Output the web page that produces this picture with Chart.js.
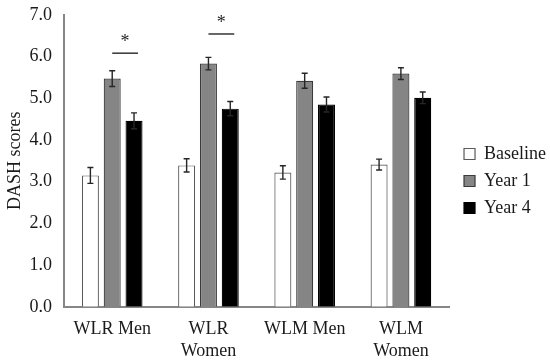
<!DOCTYPE html>
<html>
<head>
<meta charset="utf-8">
<script src="https://cdn.jsdelivr.net/npm/chart.js@4.4.0/dist/chart.umd.min.js"></script>
<style>
  html, body { margin: 0; padding: 0; background: #fff; }
  #wrap { width: 550px; height: 361px; position: relative; }
</style>
</head>
<body>
<div id="wrap"><canvas id="chart"></canvas></div>
<script>
// Data
const categories = ['WLR Men', ['WLR', 'Women'], 'WLM Men', ['WLM', 'Women']];
const seriesNames = ['Baseline', 'Year 1', 'Year 4'];
const baseline = [3.15, 3.39, 3.22, 3.41];
const year1 = [5.47, 5.83, 5.42, 5.59];
const year4 = [4.46, 4.75, 4.85, 5.01];
const baselineErr = [0.19, 0.16, 0.16, 0.13];
const year1Err = [0.19, 0.15, 0.18, 0.14];
const year4Err = [0.19, 0.17, 0.18, 0.14];
// significance markers between Year 1 and Year 4
const sigCategory = [0, 1];
const sigLevel = [6.08, 6.54];
const yTicks = [0, 1, 2, 3, 4, 5, 6, 7];

const FONT = "'Liberation Serif', 'Times New Roman', serif";

// Draws the +/- error whiskers on top of each bar
const errorBars = {
  id: 'errorBars',
  afterDatasetsDraw(chart) {
    const ctx = chart.ctx;
    const y = chart.scales.y;
    ctx.save();
    ctx.strokeStyle = '#262626';
    ctx.lineWidth = 1.4;
    chart.data.datasets.forEach((ds, i) => {
      const meta = chart.getDatasetMeta(i);
      meta.data.forEach((bar, j) => {
        const v = ds.data[j], e = ds.errors[j];
        const top = y.getPixelForValue(v + e);
        const bot = y.getPixelForValue(v - e);
        ctx.beginPath();
        ctx.moveTo(bar.x, top); ctx.lineTo(bar.x, bot);
        ctx.moveTo(bar.x - 3, top); ctx.lineTo(bar.x + 3, top);
        ctx.moveTo(bar.x - 3, bot); ctx.lineTo(bar.x + 3, bot);
        ctx.stroke();
      });
    });
    ctx.restore();
  }
};

// Draws the "*" brackets
const sigMarks = {
  id: 'sigMarks',
  afterDatasetsDraw(chart) {
    const ctx = chart.ctx;
    const y = chart.scales.y;
    const m1 = chart.getDatasetMeta(1), m2 = chart.getDatasetMeta(2);
    ctx.save();
    ctx.strokeStyle = '#262626';
    ctx.fillStyle = '#262626';
    ctx.lineWidth = 1.4;
    sigCategory.forEach((c, k) => {
      const x1 = m1.data[c].x;
      const x2 = m2.data[c].x + 4;
      const py = y.getPixelForValue(sigLevel[k]);
      ctx.beginPath();
      ctx.moveTo(x1, py); ctx.lineTo(x2, py);
      ctx.stroke();
      ctx.font = '18px ' + FONT;
      ctx.textAlign = 'center';
      ctx.textBaseline = 'middle';
      ctx.fillText('*', (x1 + x2) / 2, py - 11);
    });
    ctx.restore();
  }
};

// nudge the legend block up/right to sit where the original has it
const legendNudge = {
  id: 'legendNudge',
  afterLayout(chart) {
    const lg = chart.legend;
    lg.top -= 5; lg.bottom -= 5;
    lg.left += 6; lg.right += 6;
  }
};

new Chart(document.getElementById('chart'), {
  type: 'bar',
  data: {
    labels: categories,
    datasets: [
      { label: seriesNames[0], data: baseline, errors: baselineErr,
        backgroundColor: '#ffffff', borderColor: '#5a5a5a', borderWidth: 1.2 },
      { label: seriesNames[1], data: year1, errors: year1Err,
        backgroundColor: '#858585', borderColor: '#3a3a3a', borderWidth: 1.2 },
      { label: seriesNames[2], data: year4, errors: year4Err,
        backgroundColor: '#000000', borderColor: '#000000', borderWidth: 1.2 }
    ]
  },
  options: {
    responsive: true,
    maintainAspectRatio: false,
    animation: false,
    categoryPercentage: 0.68,
    barPercentage: 0.78,
    layout: { padding: { top: 6, left: 4, bottom: -5, right: 0 } },
    plugins: {
      legend: {
        position: 'right',
        labels: {
          boxWidth: 11,
          boxHeight: 11,
          padding: 9,
          color: '#1a1a1a',
          font: { family: FONT, size: 18 }
        }
      },
      tooltip: { enabled: false }
    },
    scales: {
      x: {
        grid: { display: false },
        border: { display: true, color: '#868686', width: 2 },
        ticks: { color: '#1a1a1a', padding: 4, font: { family: FONT, size: 18 } }
      },
      y: {
        min: yTicks[0],
        max: yTicks[yTicks.length - 1],
        grid: { display: false },
        border: { display: true, color: '#868686', width: 2 },
        afterBuildTicks: (scale) => { scale.ticks = yTicks.map(v => ({ value: v })); },
        ticks: {
          color: '#1a1a1a',
          padding: 4,
          font: { family: FONT, size: 18 },
          callback: (v) => Number(v).toFixed(1)
        },
        title: {
          display: true,
          text: 'DASH scores',
          color: '#1a1a1a',
          padding: { top: 0, bottom: 0 },
          font: { family: FONT, size: 18 }
        }
      }
    }
  },
  plugins: [errorBars, sigMarks, legendNudge]
});
</script>
</body>
</html>
